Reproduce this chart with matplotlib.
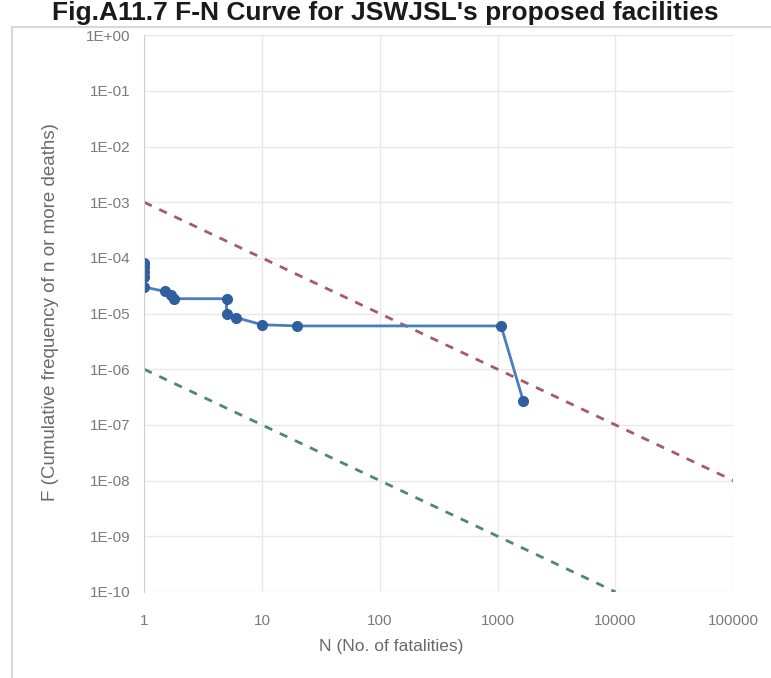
import numpy as np
import matplotlib
matplotlib.use('Agg')
import matplotlib.pyplot as plt
from matplotlib.lines import Line2D

# F-N curve data
n_fatal = [1, 1, 1, 1, 1, 1.5, 1.7, 1.8, 5, 5, 6, 10, 20, 1070, 1650]
freq = [8e-5, 7e-5, 5.5e-5, 4.5e-5, 3e-5, 2.5e-5, 2.2e-5, 1.85e-5, 1.85e-5,
        1.0e-5, 8.5e-6, 6.3e-6, 6.0e-6, 6.0e-6, 2.7e-7]

# criteria lines
upper_n = [1, 100000]
upper_f = [1e-3, 1e-8]
lower_n = [1, 10000]
lower_f = [1e-6, 1e-10]

ytick_vals = [10.0 ** -k for k in range(0, 11)]
ytick_labels = ['1E+00', '1E-01', '1E-02', '1E-03', '1E-04', '1E-05',
                '1E-06', '1E-07', '1E-08', '1E-09', '1E-10']
xtick_vals = [1, 10, 100, 1000, 10000, 100000]
xtick_labels = ['1', '10', '100', '1000', '10000', '100000']

plt.rcParams['font.family'] = ['Liberation Sans', 'DejaVu Sans']

fig = plt.figure(figsize=(7.71, 6.78), dpi=100)
ax = fig.add_axes([0.187, 0.127, 0.764, 0.821])

ax.plot(upper_n, upper_f, linestyle=(0, (3, 3)), color='#a85a62', linewidth=2.0)
ax.plot(lower_n, lower_f, linestyle=(0, (3, 3)), color='#4f8a64', linewidth=2.0)
ax.plot(n_fatal, freq, color='#4a7cc0', linewidth=2.0,
        marker='o', markersize=7, markerfacecolor='#2f5f9e', markeredgecolor='#2f5f9e')

ax.set_xscale('log')
ax.set_yscale('log')
ax.set_xlim(1, 100000)
ax.set_ylim(1e-10, 1)
ax.set_xticks(xtick_vals)
ax.set_xticklabels(xtick_labels)
ax.set_yticks(ytick_vals)
ax.set_yticklabels(ytick_labels)
ax.minorticks_off()
ax.tick_params(length=0, labelsize=11, colors='#7a7a7a')
ax.tick_params(axis='x', pad=16)
ax.tick_params(axis='y', pad=10)

ax.grid(True, which='major', color='#e8e8e8', linewidth=1.0)
ax.set_axisbelow(True)
for s in ['top', 'right', 'bottom']:
    ax.spines[s].set_visible(False)
ax.spines['left'].set_color('#d0d0d0')

ax.set_xlabel('N (No. of fatalities)', fontsize=12.5, color='#6a6a6a')
ax.xaxis.set_label_coords((391 - 144) / 589, -(647 - 592) / 557, transform=ax.transAxes)
ax.xaxis.label.set_va('center')
ax.set_ylabel('F (Cumulative frequency of n or more deaths)', fontsize=13.5, color='#6a6a6a')
ax.yaxis.set_label_coords(-(144 - 50) / 589, (592 - 312) / 557, transform=ax.transAxes)
ax.yaxis.label.set_va('center')

# chart frame edges
fig.add_artist(Line2D([12 / 771, 12 / 771], [0, 1 - 27 / 678], color='#d8d8d8', linewidth=1.5))
fig.add_artist(Line2D([12 / 771, 1], [1 - 27 / 678, 1 - 27 / 678], color='#d8d8d8', linewidth=1.5))

# title at the very top of the image
fig.text(0.5, 1 - 1 / 678, "Fig.A11.7 F-N Curve for JSWJSL's proposed facilities",
         ha='center', va='top', fontsize=19, fontweight='bold', color='#1a1a1a')

fig.savefig('out.png', dpi=100)
